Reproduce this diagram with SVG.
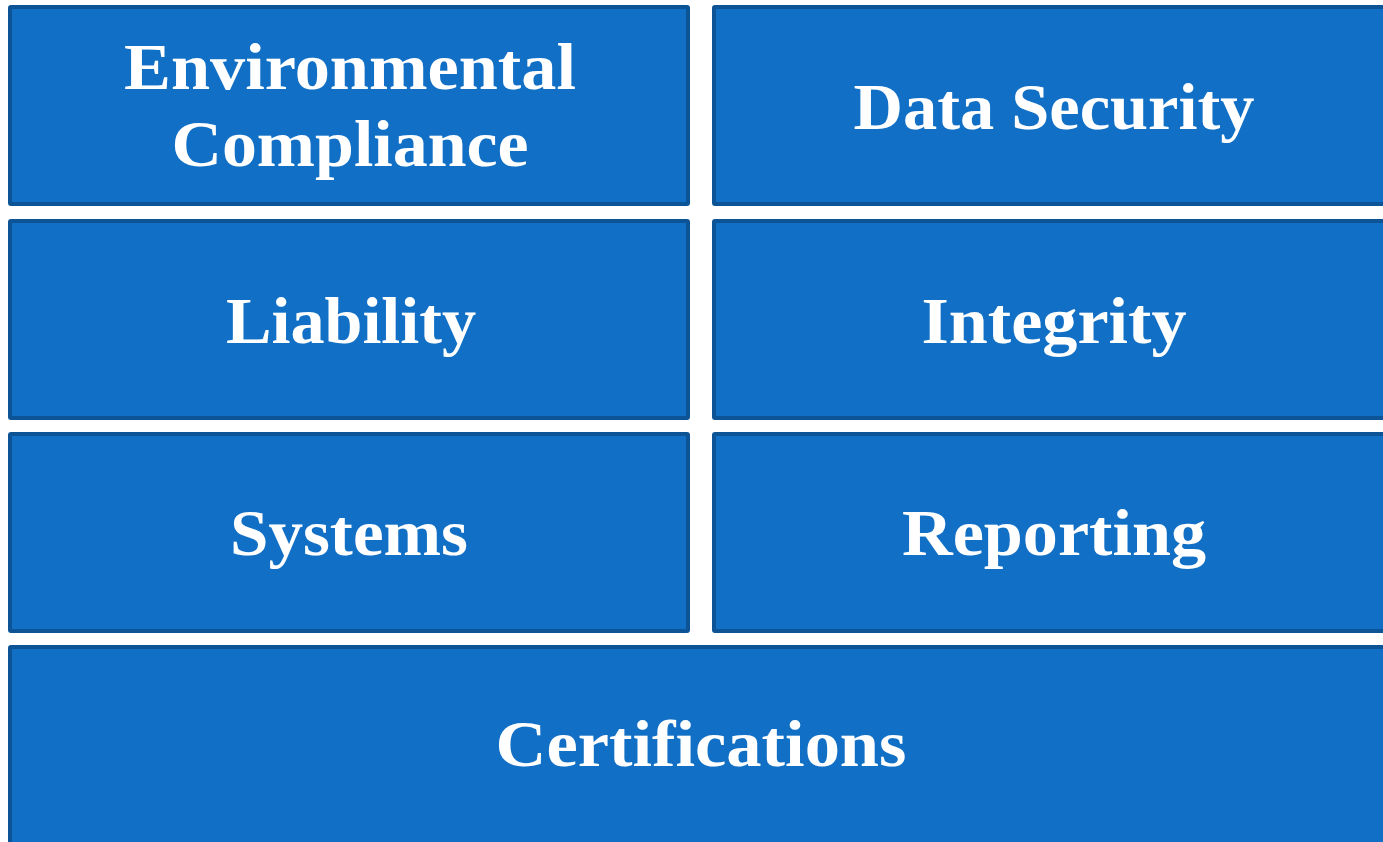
<svg xmlns="http://www.w3.org/2000/svg" width="1383" height="842" viewBox="0 0 1383 842">
<style>
.box{fill:#1170C5;stroke:#0D5496;stroke-width:4}
.lbl{fill:#FFFFFF;font-family:"Liberation Serif","DejaVu Serif",serif;font-weight:bold;font-size:66px;text-anchor:middle}
</style>
<rect width="1383" height="842" fill="#FFFFFF"/>
<g id="env">
<rect class="box" x="10" y="7" width="678" height="197" rx="1"/>
<text class="lbl" x="350" y="89" textLength="452" lengthAdjust="spacingAndGlyphs">Environmental</text>
<text class="lbl" x="350" y="166" textLength="357" lengthAdjust="spacingAndGlyphs">Compliance</text>
</g>
<g id="datasec">
<rect class="box" x="714" y="7" width="678" height="197" rx="1"/>
<text class="lbl" x="1054" y="129" textLength="401" lengthAdjust="spacingAndGlyphs">Data Security</text>
</g>
<g id="liability">
<rect class="box" x="10" y="221" width="678" height="197" rx="1"/>
<text class="lbl" x="351" y="343" textLength="250" lengthAdjust="spacingAndGlyphs">Liability</text>
</g>
<g id="integrity">
<rect class="box" x="714" y="221" width="678" height="197" rx="1"/>
<text class="lbl" x="1054" y="343" textLength="265" lengthAdjust="spacingAndGlyphs">Integrity</text>
</g>
<g id="systems">
<rect class="box" x="10" y="434" width="678" height="197" rx="1"/>
<text class="lbl" x="349" y="555" textLength="238" lengthAdjust="spacingAndGlyphs">Systems</text>
</g>
<g id="reporting">
<rect class="box" x="714" y="434" width="678" height="197" rx="1"/>
<text class="lbl" x="1054" y="555" textLength="304" lengthAdjust="spacingAndGlyphs">Reporting</text>
</g>
<g id="certifications">
<rect class="box" x="10" y="647" width="1382" height="210" rx="1"/>
<text class="lbl" x="701" y="766" textLength="411" lengthAdjust="spacingAndGlyphs">Certifications</text>
</g>
<g id="connectors"></g>
</svg>
